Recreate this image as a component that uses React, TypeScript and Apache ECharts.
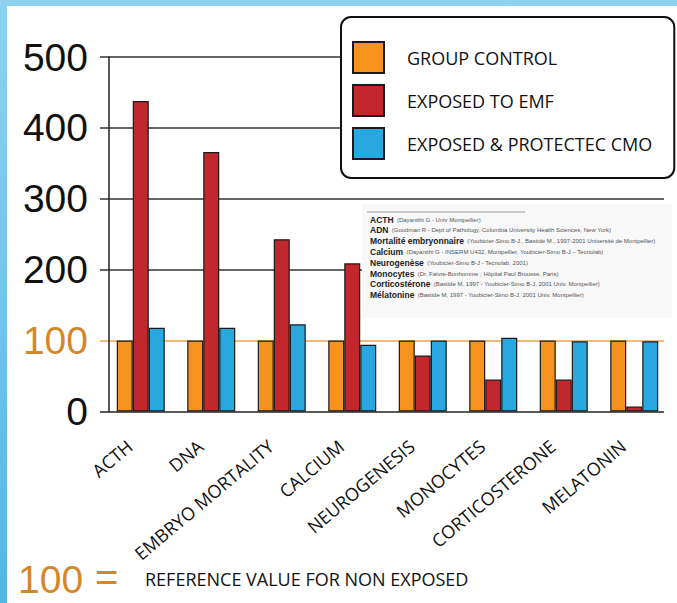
import React, { useEffect, useRef } from "react";
import * as echarts from "echarts";

const categories = [
  "ACTH",
  "DNA",
  "EMBRYO MORTALITY",
  "CALCIUM",
  "NEUROGENESIS",
  "MONOCYTES",
  "CORTICOSTERONE",
  "MELATONIN",
];
const groupControl = [100, 100, 100, 100, 100, 100, 100, 100];
const exposedEMF = [438, 366, 243, 209, 79, 45, 45, 7];
const exposedProtected = [118, 118, 123, 94, 100, 104, 99, 99];
const seriesNames = ["GROUP CONTROL", "EXPOSED TO EMF", "EXPOSED & PROTECTEC CMO"];
const yMin = 0;
const yMax = 500;
const yStep = 100;
const referenceValue = 100;

const sources: [string, string][] = [
  ["ACTH", "(Dayanithi G - Univ Montpellier)"],
  ["ADN", "(Goodman R - Dept of Pathology, Columbia University Health Sciences, New York)"],
  ["Mortalité embryonnaire", "(Youbicier-Simo B-J., Bastide M., 1997-2001 Université de Montpellier)"],
  ["Calcium", "(Dayanithi G - INSERM U432, Montpellier, Youbicier-Simo B-J – Tecnolab)"],
  ["Neurogenèse", "(Youbicier-Simo B-J - Tecnolab, 2001)"],
  ["Monocytes", "(Dr. Faivre-Bonhomme ; Hôpital Paul Brousse, Paris)"],
  ["Corticostérone", "(Bastide M, 1997 - Youbicier-Simo B-J, 2001 Univ. Montpellier)"],
  ["Mélatonine", "(Bastide M, 1997 - Youbicier-Simo B-J, 2001 Univ. Montpellier)"],
];

const ORANGE = "#F6921E";
const RED = "#C1272D";
const BLUE = "#29A8E0";
const REF_ORANGE = "#D4862A";

export default function App() {
  const ref = useRef<HTMLDivElement>(null);

  useEffect(() => {
    if (!ref.current) return;
    const chart = echarts.init(ref.current, null, { renderer: "svg" });

    const insetTexts: any[] = sources.map((s, i) => ({
      type: "text",
      x: 370,
      y: 219.5 + i * 10.8,
      z: 101,
      style: {
        text: `{b|${s[0]}} {s|${s[1]}}`,
        verticalAlign: "middle",
        rich: {
          b: {
            fontFamily: "Liberation Sans",
            fontWeight: "bold",
            fontSize: 8.5,
            fill: "#222",
          },
          s: {
            fontFamily: "Liberation Sans",
            fontSize: 6,
            fill: "#555",
          },
        },
      },
    }));

    const option: any = {
      animation: false,
      grid: [
        { left: 100, right: 13, top: 57, bottom: 191.5 },
        { left: 105.5, right: 7.5, top: 57, bottom: 191.5 },
        { left: 94.5, right: 18.5, top: 57, bottom: 191.5 },
      ],
      xAxis: [
        { type: "category", gridIndex: 0, data: categories, show: false },
        { type: "category", gridIndex: 1, data: categories, show: false },
        {
          type: "category",
          gridIndex: 2,
          data: categories,
          axisLine: { show: false },
          axisTick: { show: false },
          axisLabel: {
            interval: 0,
            rotate: 40,
            margin: 32,
            fontFamily: "Open Sans",
            fontSize: 18,
            color: "#111",
          },
        },
      ],
      yAxis: [
        {
          type: "value",
          gridIndex: 0,
          position: "left",
          min: yMin,
          max: yMax,
          interval: yStep,
          axisLine: { show: false },
          axisTick: { show: false },
          axisLabel: {
            margin: 12,
            fontFamily: "Liberation Sans",
            fontSize: 39,
            color: (v: any) => (Number(v) === referenceValue ? REF_ORANGE : "#111"),
          },
          splitLine: {
            show: true,
            lineStyle: {
              color: ["#222", "#EBA24A", "#333", "#333", "#333", "#333"],
              width: 1.5,
            },
          },
        },
        {
          type: "value",
          gridIndex: 0,
          position: "left",
          min: yMin,
          max: yMax,
          interval: yStep,
          offset: -9,
          axisLine: { show: true, lineStyle: { color: "#222", width: 1.5 } },
          axisTick: { show: false },
          axisLabel: { show: false },
          splitLine: { show: false },
        },
        {
          type: "value",
          gridIndex: 1,
          min: yMin,
          max: yMax,
          interval: yStep,
          show: false,
          splitLine: { show: false },
        },
        {
          type: "value",
          gridIndex: 2,
          min: yMin,
          max: yMax,
          interval: yStep,
          show: false,
          splitLine: { show: false },
        },
      ],
      legend: {
        orient: "vertical",
        left: 341,
        top: 17,
        padding: [24, 22, 18, 11],
        itemWidth: 31,
        itemHeight: 31,
        itemGap: 10,
        icon: "rect",
        borderColor: "#111",
        borderWidth: 2,
        borderRadius: 10,
        backgroundColor: "#fff",
        z: 20,
        textStyle: {
          fontFamily: "Open Sans",
          fontSize: 18,
          color: "#111",
          padding: [0, 0, 0, 18],
        },
        data: seriesNames,
      },
      series: [
        {
          name: seriesNames[0],
          type: "bar",
          xAxisIndex: 1,
          yAxisIndex: 2,
          data: groupControl,
          barWidth: 16,
          barGap: "0%",
          itemStyle: { color: ORANGE, borderColor: "#1a1a1a", borderWidth: 1.2 },
        },
        {
          name: seriesNames[1],
          type: "bar",
          xAxisIndex: 1,
          yAxisIndex: 2,
          data: exposedEMF,
          barWidth: 16,
          barGap: "0%",
          itemStyle: { color: RED, borderColor: "#1a1a1a", borderWidth: 1.2 },
        },
        {
          name: seriesNames[2],
          type: "bar",
          xAxisIndex: 1,
          yAxisIndex: 2,
          data: exposedProtected,
          barWidth: 16,
          barGap: "0%",
          itemStyle: { color: BLUE, borderColor: "#1a1a1a", borderWidth: 1.2 },
        },
      ],
      graphic: [
        {
          type: "rect",
          z: 100,
          shape: { x: 362, y: 204, width: 310, height: 114 },
          style: { fill: "#F8F8F8" },
        },
        {
          type: "line",
          z: 101,
          shape: { x1: 367, y1: 212, x2: 525, y2: 212 },
          style: { stroke: "#9a9a9a", lineWidth: 1 },
        },
        ...insetTexts,
        {
          type: "text",
          x: 18,
          y: 579,
          z: 101,
          style: {
            text: "100",
            fontFamily: "Liberation Sans",
            fontSize: 39,
            fill: REF_ORANGE,
            verticalAlign: "middle",
          },
        },
        {
          type: "text",
          x: 95,
          y: 577,
          z: 101,
          style: {
            text: "=",
            fontFamily: "Liberation Sans",
            fontSize: 40,
            fill: REF_ORANGE,
            verticalAlign: "middle",
          },
        },
        {
          type: "text",
          x: 145,
          y: 579,
          z: 101,
          style: {
            text: "REFERENCE VALUE FOR NON EXPOSED",
            fontFamily: "Open Sans",
            fontSize: 18,
            fill: "#111",
            verticalAlign: "middle",
          },
        },
      ],
    };

    chart.setOption(option);
    return () => chart.dispose();
  }, []);

  return (
    <div
      style={{
        position: "fixed",
        left: 0,
        top: 0,
        width: 677,
        height: 603,
        background: "linear-gradient(180deg, #8ED2F0 0%, #52B7E3 100%)",
        overflow: "hidden",
      }}
    >
      <div
        style={{
          position: "absolute",
          left: 7,
          top: 6,
          right: 0,
          bottom: 0,
          background: "#fff",
        }}
      />
      <div
        ref={ref}
        style={{ position: "absolute", left: 0, top: 0, width: 677, height: 603 }}
      />
    </div>
  );
}
